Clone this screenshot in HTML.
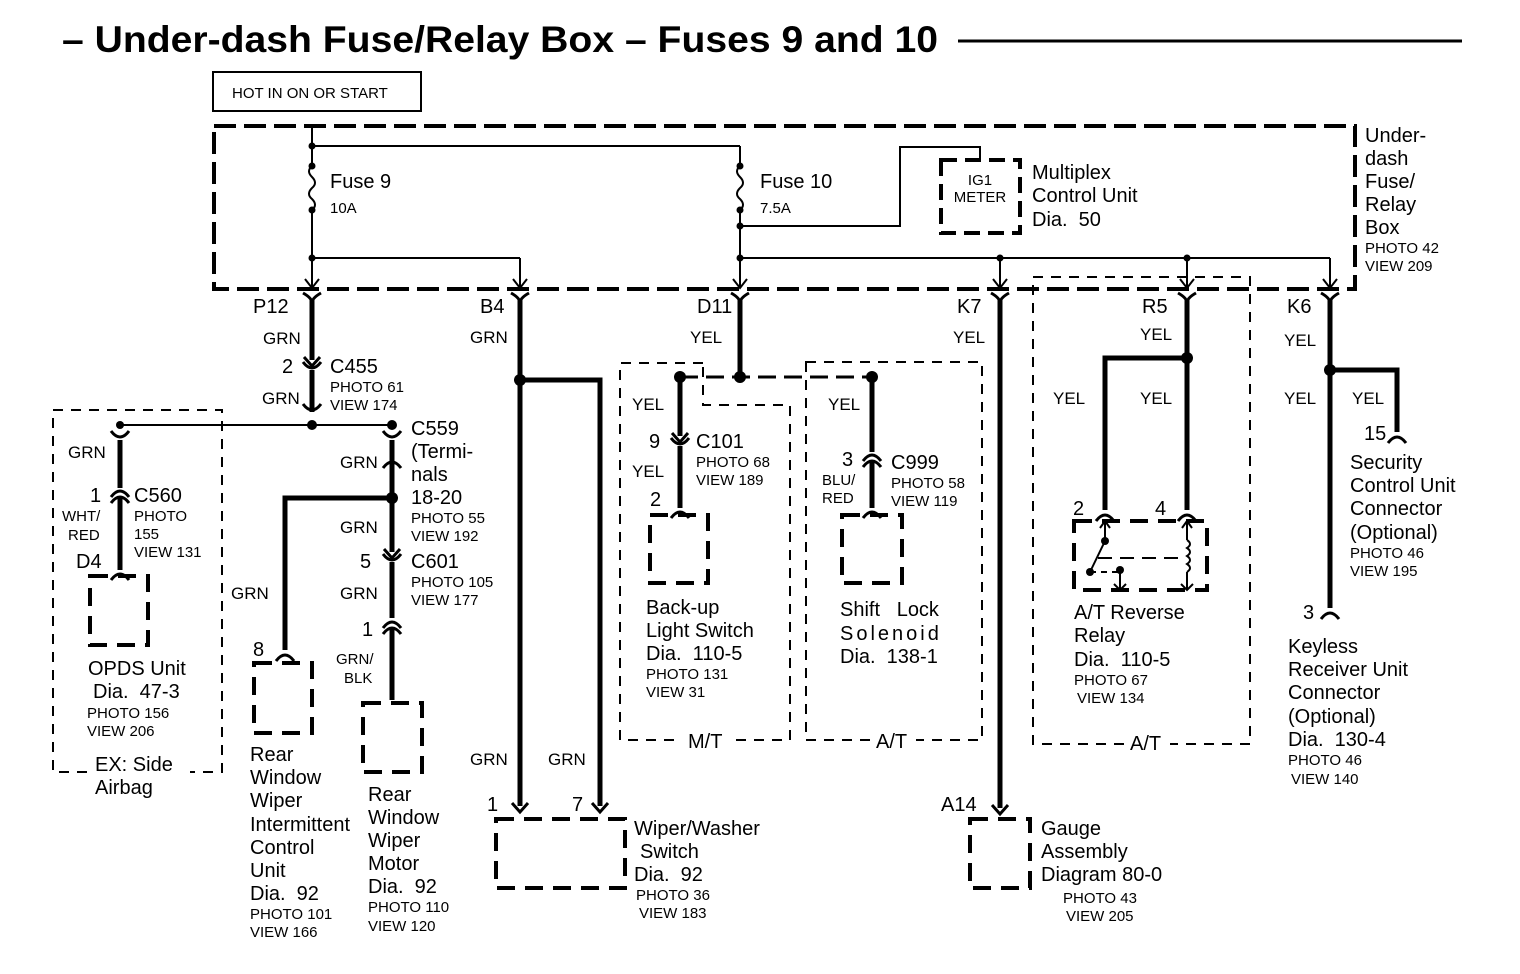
<!DOCTYPE html>
<html><head><meta charset="utf-8"><style>
body{margin:0;background:#fff}
svg{display:block}
text{font-family:"Liberation Sans",sans-serif;fill:#000;white-space:pre}
.l{font-size:20px}.s{font-size:15px}.m{font-size:17px}
</style></head><body>
<svg width="1520" height="974" viewBox="0 0 1520 974" xmlns="http://www.w3.org/2000/svg" xml:space="preserve">
<defs>
<path id="fork" d="M-8,-9 L0,0 L8,-9" fill="none" stroke="#000" stroke-width="3"/>
<path id="arcU" d="M-9,6 Q0,-6 9,6" fill="none" stroke="#000" stroke-width="3"/>
<path id="arcD" d="M-9,-6 Q0,6 9,-6" fill="none" stroke="#000" stroke-width="3"/>
<path id="arr" d="M-7,-9 L0,0 L7,-9" fill="none" stroke="#000" stroke-width="2"/>
</defs>
<text x="62" y="52" style="font-size:37px;font-weight:bold" textLength="876" lengthAdjust="spacingAndGlyphs">– Under-dash Fuse/Relay Box – Fuses 9 and 10</text>
<line x1="958" y1="41" x2="1462" y2="41" stroke="#000" stroke-width="3"/>
<rect x="213" y="72" width="208" height="39" fill="none" stroke="#000" stroke-width="2"/>
<text x="232" y="98" class="s">HOT IN ON OR START</text>
<rect x="214" y="126" width="1141" height="163" fill="none" stroke="#000" stroke-width="4" stroke-dasharray="22,8"/>
<text class="l" x="1365" y="142">Under-</text><text class="l" x="1365" y="165">dash</text><text class="l" x="1365" y="188">Fuse/</text><text class="l" x="1365" y="211">Relay</text><text class="l" x="1365" y="234">Box</text>
<text class="s" x="1365" y="253">PHOTO 42</text><text class="s" x="1365" y="271">VIEW 209</text>
<g stroke="#000" stroke-width="2" fill="none">
<line x1="312" y1="126" x2="312" y2="166"/><line x1="312" y1="210" x2="312" y2="288"/>
<path d="M312,166 q-6,5 0,11 q6,6 0,11 q-6,6 0,11 q6,6 0,11"/>
<line x1="312" y1="146" x2="740" y2="146"/>
<line x1="740" y1="146" x2="740" y2="166"/><line x1="740" y1="210" x2="740" y2="288"/>
<path d="M740,166 q-6,5 0,11 q6,6 0,11 q-6,6 0,11 q6,6 0,11"/>
<line x1="312" y1="258" x2="520" y2="258"/><line x1="520" y1="258" x2="520" y2="288"/>
<path d="M740,226 H900 V147 H980 V160"/>
<line x1="740" y1="258" x2="1330" y2="258"/>
<line x1="1000" y1="258" x2="1000" y2="288"/><line x1="1187" y1="258" x2="1187" y2="288"/><line x1="1330" y1="258" x2="1330" y2="288"/>
</g>
<g fill="#000">
<circle cx="312" cy="146" r="3.5"/><circle cx="312" cy="166" r="3.5"/><circle cx="312" cy="210" r="3.5"/><circle cx="312" cy="258" r="3.5"/>
<circle cx="740" cy="166" r="3.5"/><circle cx="740" cy="210" r="3.5"/><circle cx="740" cy="226" r="3.5"/><circle cx="740" cy="258" r="3.5"/>
<circle cx="1000" cy="258" r="3.5"/><circle cx="1187" cy="258" r="3.5"/>
</g>
<use href="#arr" x="312" y="288"/><use href="#arr" x="520" y="288"/><use href="#arr" x="740" y="288"/><use href="#arr" x="1000" y="288"/><use href="#arr" x="1187" y="288"/><use href="#arr" x="1330" y="288"/>
<text class="l" x="330" y="188">Fuse 9</text><text class="s" x="330" y="213">10A</text>
<text class="l" x="760" y="188">Fuse 10</text><text class="s" x="760" y="213">7.5A</text>
<rect x="941" y="160" width="79" height="73" fill="none" stroke="#000" stroke-width="4" stroke-dasharray="16,8"/>
<text x="980" y="185" class="s" text-anchor="middle">IG1</text><text x="980" y="202" class="s" text-anchor="middle">METER</text>
<text class="l" x="1032" y="179">Multiplex</text><text class="l" x="1032" y="202">Control Unit</text><text class="l" x="1032" y="226">Dia.  50</text>
<text class="l" x="253" y="313">P12</text><text class="l" x="480" y="313">B4</text><text class="l" x="697" y="313">D11</text><text class="l" x="957" y="313">K7</text><text class="l" x="1142" y="313">R5</text><text class="l" x="1287" y="313">K6</text>
<g stroke="#000" stroke-width="5" fill="none">
<line x1="312" y1="300" x2="312" y2="360"/><line x1="312" y1="370" x2="312" y2="412"/>
<line x1="120" y1="440" x2="120" y2="488"/><line x1="120" y1="498" x2="120" y2="570"/>
<line x1="392" y1="440" x2="392" y2="552"/><line x1="392" y1="562" x2="392" y2="618"/><line x1="392" y1="628" x2="392" y2="700"/>
<path d="M392,498 H285 V650"/>
<line x1="520" y1="300" x2="520" y2="806"/><path d="M520,380 H600 V806"/>
<line x1="740" y1="300" x2="740" y2="377"/>
<line x1="680" y1="377" x2="680" y2="436"/><line x1="680" y1="446" x2="680" y2="508"/>
<line x1="872" y1="377" x2="872" y2="452"/><line x1="872" y1="462" x2="872" y2="508"/>
<line x1="1000" y1="300" x2="1000" y2="808"/>
<line x1="1187" y1="300" x2="1187" y2="510"/><path d="M1187,358 H1105 V510"/>
<line x1="1330" y1="300" x2="1330" y2="608"/><path d="M1330,370 H1397 V432"/>
</g>
<g stroke="#000" stroke-width="3" fill="none">
<path d="M303,293 Q312,298 312,303 Q312,298 321,293"/><path d="M511,293 Q520,298 520,303 Q520,298 529,293"/><path d="M731,293 Q740,298 740,303 Q740,298 749,293"/><path d="M991,293 Q1000,298 1000,303 Q1000,298 1009,293"/><path d="M1178,293 Q1187,298 1187,303 Q1187,298 1196,293"/><path d="M1321,293 Q1330,298 1330,303 Q1330,298 1339,293"/>
</g>
<use href="#fork" x="312" y="366"/><use href="#arcD" x="312" y="368"/>
<use href="#arcD" x="312" y="410"/>
<use href="#arcD" x="120" y="437"/><use href="#arcU" x="392" y="462"/>
<use href="#arcD" x="392" y="437"/>
<use href="#arcU" x="120" y="491"/><use href="#arcU" x="120" y="497"/><use href="#arcU" x="120" y="574"/>
<use href="#fork" x="392" y="558"/><use href="#arcD" x="392" y="560"/>
<use href="#arcU" x="392" y="622"/><use href="#arcU" x="392" y="628"/><use href="#arcU" x="285" y="655"/>
<use href="#fork" x="680" y="442"/><use href="#arcD" x="680" y="444"/><use href="#arcU" x="680" y="512"/>
<use href="#arcU" x="872" y="455"/><use href="#arcU" x="872" y="461"/><use href="#arcU" x="872" y="512"/>
<use href="#arcU" x="1105" y="515"/><use href="#arcU" x="1187" y="515"/>
<use href="#arcU" x="1397" y="437"/><use href="#arcU" x="1330" y="613"/>
<use href="#fork" x="520" y="812"/><use href="#fork" x="600" y="812"/><use href="#fork" x="1000" y="814"/>
<g stroke="#000" stroke-width="2" fill="none">
<line x1="120" y1="425" x2="392" y2="425"/>
<line x1="680" y1="377" x2="872" y2="377" stroke-dasharray="18,8" stroke-width="3"/>
</g>
<g fill="#000">
<circle cx="312" cy="425" r="5"/><circle cx="392" cy="425" r="5"/><circle cx="120" cy="425" r="4"/>
<circle cx="392" cy="498" r="6"/><circle cx="520" cy="380" r="6"/>
<circle cx="740" cy="377" r="6"/><circle cx="680" cy="377" r="6"/><circle cx="872" cy="377" r="6"/>
<circle cx="1187" cy="358" r="6"/><circle cx="1330" cy="370" r="6"/>
</g>
<g stroke="#000" stroke-width="2" fill="none" stroke-dasharray="10,8">
<rect x="53" y="410" width="169" height="362"/>
<path d="M703,363 H620 V740 H790 V405 H703 Z"/>
<rect x="806" y="362" width="176" height="378"/>
<rect x="1033" y="277" width="217" height="467"/>
</g>
<g fill="#fff">
<rect x="682" y="730" width="46" height="20"/><rect x="870" y="730" width="46" height="20"/><rect x="1124" y="734" width="46" height="20"/><rect x="90" y="752" width="100" height="30"/>
</g>
<text class="l" x="688" y="748">M/T</text><text class="l" x="876" y="748">A/T</text><text class="l" x="1130" y="750">A/T</text>
<g stroke="#000" stroke-width="4" fill="none" stroke-dasharray="18,10">
<rect x="90" y="576" width="58" height="69"/>
<rect x="254" y="663" width="58" height="70"/>
<rect x="363" y="703" width="59" height="69"/>
<rect x="650" y="515" width="58" height="68"/>
<rect x="842" y="515" width="60" height="68"/>
<rect x="1074" y="521" width="133" height="69"/>
<rect x="496" y="819" width="129" height="69"/>
<rect x="970" y="819" width="60" height="69"/>
</g>
<g stroke="#000" stroke-width="2" fill="none">
<line x1="1105" y1="521" x2="1105" y2="541"/><path d="M1100,528 L1105,521 L1110,528"/>
<line x1="1105" y1="541" x2="1090" y2="572"/><line x1="1098" y1="558" x2="1185" y2="558" stroke-dasharray="14,8"/>
<line x1="1090" y1="572" x2="1120" y2="572" stroke-dasharray="6,5"/>
<line x1="1120" y1="572" x2="1120" y2="590"/><path d="M1114,584 L1120,590 L1126,584"/>
<line x1="1187" y1="521" x2="1187" y2="540"/><path d="M1182,528 L1187,521 L1192,528"/>
<path d="M1187,540 q6,4 0,8 q6,4 0,8 q6,4 0,8 q6,4 0,8"/>
<line x1="1187" y1="572" x2="1187" y2="590"/><path d="M1181,584 L1187,590 L1193,584"/>
</g>
<g fill="#000"><circle cx="1105" cy="541" r="4"/><circle cx="1090" cy="572" r="4"/><circle cx="1120" cy="570" r="4"/></g>
<text class="m" x="263" y="344">GRN</text><text class="l" x="282" y="373">2</text>
<text class="l" x="330" y="373">C455</text><text class="s" x="330" y="392">PHOTO 61</text><text class="s" x="330" y="410">VIEW 174</text>
<text class="m" x="262" y="404">GRN</text>
<text class="l" x="411" y="435">C559</text><text class="l" x="411" y="458">(Termi-</text><text class="l" x="411" y="481">nals</text><text class="l" x="411" y="504">18-20</text>
<text class="s" x="411" y="523">PHOTO 55</text><text class="s" x="411" y="541">VIEW 192</text>
<text class="m" x="340" y="468">GRN</text><text class="m" x="340" y="533">GRN</text>
<text class="l" x="360" y="568">5</text><text class="l" x="411" y="568">C601</text><text class="s" x="411" y="587">PHOTO 105</text><text class="s" x="411" y="605">VIEW 177</text>
<text class="m" x="340" y="599">GRN</text><text class="l" x="362" y="636">1</text>
<text class="s" x="336" y="664">GRN/</text><text class="s" x="344" y="683">BLK</text>
<text class="m" x="231" y="599">GRN</text><text class="l" x="253" y="656">8</text>
<text class="m" x="68" y="458">GRN</text>
<text class="l" x="90" y="502">1</text><text class="l" x="134" y="502">C560</text>
<text class="s" x="62" y="521">WHT/</text><text class="s" x="68" y="540">RED</text>
<text class="s" x="134" y="521">PHOTO</text><text class="s" x="134" y="539">155</text><text class="s" x="134" y="557">VIEW 131</text>
<text class="l" x="76" y="568">D4</text>
<text class="l" x="88" y="675">OPDS Unit</text><text class="l" x="93" y="698">Dia.  47-3</text>
<text class="s" x="87" y="718">PHOTO 156</text><text class="s" x="87" y="736">VIEW 206</text>
<text class="l" x="95" y="771">EX: Side</text><text class="l" x="95" y="794">Airbag</text>
<text class="l" x="250" y="761">Rear</text><text class="l" x="250" y="784">Window</text><text class="l" x="250" y="807">Wiper</text><text class="l" x="250" y="831">Intermittent</text><text class="l" x="250" y="854">Control</text><text class="l" x="250" y="877">Unit</text><text class="l" x="250" y="900">Dia.  92</text>
<text class="s" x="250" y="919">PHOTO 101</text><text class="s" x="250" y="937">VIEW 166</text>
<text class="l" x="368" y="801">Rear</text><text class="l" x="368" y="824">Window</text><text class="l" x="368" y="847">Wiper</text><text class="l" x="368" y="870">Motor</text><text class="l" x="368" y="893">Dia.  92</text>
<text class="s" x="368" y="912">PHOTO 110</text><text class="s" x="368" y="931">VIEW 120</text>
<text class="m" x="470" y="343">GRN</text>
<text class="m" x="470" y="765">GRN</text><text class="m" x="548" y="765">GRN</text>
<text class="l" x="487" y="811">1</text><text class="l" x="572" y="811">7</text>
<text class="l" x="634" y="835">Wiper/Washer</text><text class="l" x="640" y="858">Switch</text><text class="l" x="634" y="881">Dia.  92</text>
<text class="s" x="636" y="900">PHOTO 36</text><text class="s" x="639" y="918">VIEW 183</text>
<text class="m" x="690" y="343">YEL</text>
<text class="m" x="632" y="410">YEL</text><text class="l" x="649" y="448">9</text>
<text class="l" x="696" y="448">C101</text><text class="s" x="696" y="467">PHOTO 68</text><text class="s" x="696" y="485">VIEW 189</text>
<text class="m" x="632" y="477">YEL</text><text class="l" x="650" y="506">2</text>
<text class="l" x="646" y="614">Back-up</text><text class="l" x="646" y="637">Light Switch</text><text class="l" x="646" y="660">Dia.  110-5</text>
<text class="s" x="646" y="679">PHOTO 131</text><text class="s" x="646" y="697">VIEW 31</text>
<text class="m" x="828" y="410">YEL</text><text class="l" x="842" y="466">3</text>
<text class="l" x="891" y="469">C999</text><text class="s" x="891" y="488">PHOTO 58</text><text class="s" x="891" y="506">VIEW 119</text>
<text class="s" x="822" y="485">BLU/</text><text class="s" x="822" y="503">RED</text>
<text class="l" x="840" y="616">Shift   Lock</text><text class="l" x="840" y="640" letter-spacing="3">Solenoid</text><text class="l" x="840" y="663">Dia.  138-1</text>
<text class="m" x="953" y="343">YEL</text>
<text class="l" x="941" y="811">A14</text>
<text class="l" x="1041" y="835">Gauge</text><text class="l" x="1041" y="858">Assembly</text><text class="l" x="1041" y="881">Diagram 80-0</text>
<text class="s" x="1063" y="903">PHOTO 43</text><text class="s" x="1066" y="921">VIEW 205</text>
<text class="m" x="1140" y="340">YEL</text><text class="m" x="1053" y="404">YEL</text><text class="m" x="1140" y="404">YEL</text>
<text class="l" x="1073" y="515">2</text><text class="l" x="1155" y="515">4</text>
<text class="l" x="1074" y="619">A/T Reverse</text><text class="l" x="1074" y="642">Relay</text><text class="l" x="1074" y="666">Dia.  110-5</text>
<text class="s" x="1074" y="685">PHOTO 67</text><text class="s" x="1077" y="703">VIEW 134</text>
<text class="m" x="1284" y="346">YEL</text><text class="m" x="1284" y="404">YEL</text><text class="m" x="1352" y="404">YEL</text>
<text class="l" x="1364" y="440">15</text>
<text class="l" x="1350" y="469">Security</text><text class="l" x="1350" y="492">Control Unit</text><text class="l" x="1350" y="515">Connector</text><text class="l" x="1350" y="539">(Optional)</text>
<text class="s" x="1350" y="558">PHOTO 46</text><text class="s" x="1350" y="576">VIEW 195</text>
<text class="l" x="1303" y="619">3</text>
<text class="l" x="1288" y="653">Keyless</text><text class="l" x="1288" y="676">Receiver Unit</text><text class="l" x="1288" y="699">Connector</text><text class="l" x="1288" y="723">(Optional)</text><text class="l" x="1288" y="746">Dia.  130-4</text>
<text class="s" x="1288" y="765">PHOTO 46</text><text class="s" x="1291" y="784">VIEW 140</text>
</svg>
</body></html>
